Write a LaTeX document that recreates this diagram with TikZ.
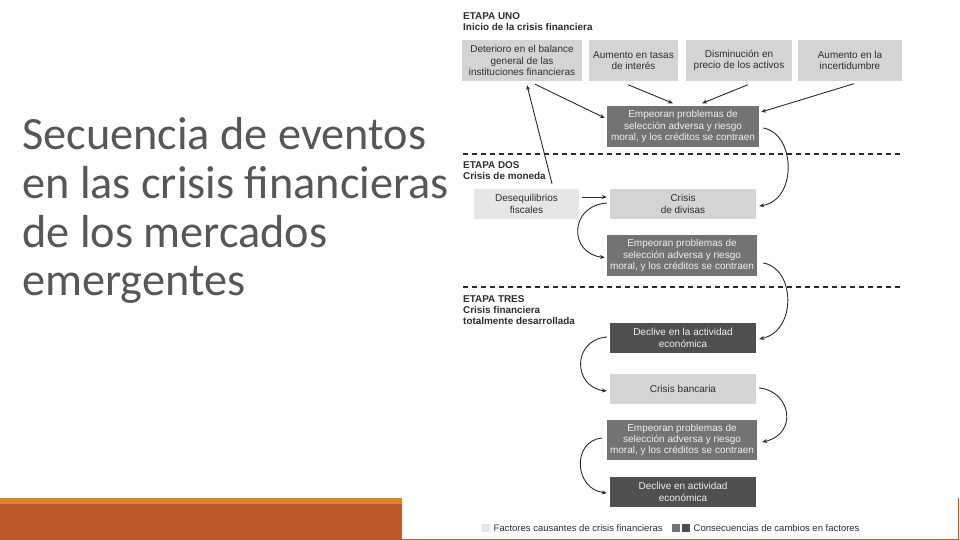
\documentclass[tikz,border=0pt]{standalone}
\usepackage{fontspec}
\setmainfont{Liberation Sans}
\newfontfamily\titlefont{Carlito}
\usetikzlibrary{arrows.meta,calc}
\definecolor{barorange}{HTML}{E0831D}
\definecolor{barbrown}{HTML}{BD592B}
\definecolor{titlegray}{HTML}{575757}
\definecolor{lightbox}{HTML}{D4D4D4}
\definecolor{paleBox}{HTML}{E6E6E6}
\definecolor{midbox}{HTML}{737373}
\definecolor{darkbox}{HTML}{4F4F4F}
\definecolor{boxtext}{HTML}{2E2E2E}
\definecolor{inktext}{HTML}{F0F0F0}
\definecolor{linecol}{HTML}{2A2A2A}
\tikzset{
  box/.style={rectangle, inner sep=0pt, align=center, font=\fontsize{10}{11.3}\selectfont},
  lightb/.style={box, fill=lightbox, text=boxtext},
  paleb/.style={box, fill=paleBox, text=boxtext},
  midb/.style={box, fill=midbox, text=inktext},
  darkb/.style={box, fill=darkbox, text=inktext},
  hdr/.style={anchor=base west, inner sep=0pt, text=boxtext, font=\bfseries\fontsize{9.9}{11}\selectfont},
  ttl/.style={anchor=base west, inner sep=0pt, text=titlegray, font=\titlefont\fontsize{46.3}{48}\selectfont},
  arr/.style={draw=linecol, line width=0.9pt, -{Stealth[length=5pt,width=4pt]}},
  sepline/.style={draw=linecol, line width=1.2pt, dash pattern=on 5pt off 4pt},
  legtext/.style={anchor=west, inner sep=0pt, text=boxtext, font=\fontsize{9.5}{11}\selectfont}
}
\begin{document}
\begin{tikzpicture}[x=1pt,y=-1pt]
\useasboundingbox (0,0) rectangle (960,540);
\fill[white] (0,0) rectangle (960,540);
% bottom bars
\fill[barorange] (0,498) rectangle (402,504);
\fill[barbrown] (0,504) rectangle (402,540);
\fill[barbrown] (402,538.6) rectangle (959,540);
\fill[barbrown] (958,498) rectangle (959.3,540);
% title
\node[ttl] (t1) at (22,150) {Secuencia de eventos};
\node[ttl] (t2) at (22,198.5) {en las crisis financieras};
\node[ttl] (t3) at (22,247) {de los mercados};
\node[ttl] (t4) at (22,295) {emergentes};
% headers
\node[hdr] (h1a) at (463,19.5) {ETAPA UNO};
\node[hdr] (h1b) at (463,31) {Inicio de la crisis financiera};
\node[hdr] (h2a) at (463,168.3) {ETAPA DOS};
\node[hdr] (h2b) at (463,179.3) {Crisis de moneda};
\node[hdr] (h3a) at (463,302.3) {ETAPA TRES};
\node[hdr] (h3b) at (463,313.3) {Crisis financiera};
\node[hdr] (h3c) at (463,324.3) {totalmente desarrollada};
% separators
\coordinate (s1a) at (463,154); \coordinate (s1b) at (902,154);
\coordinate (s2a) at (463,287); \coordinate (s2b) at (902,287);
\draw[sepline] (s1a) -- (s1b);
\draw[sepline] (s2a) -- (s2b);
% stage one boxes
\node[lightb, minimum width=120pt, minimum height=41pt] (b1) at (522,60.5) {Deterioro en el balance\\general de las\\instituciones financieras};
\node[lightb, minimum width=89pt, minimum height=41pt] (b2) at (633.5,60.5) {Aumento en tasas\\de interés};
\node[lightb, minimum width=106pt, minimum height=41pt] (b3) at (739,60.5) {Disminución en\\precio de los activos};
\node[lightb, minimum width=104pt, minimum height=41pt] (b4) at (850,60.5) {Aumento en la\\incertidumbre};
\node[midb, minimum width=152pt, minimum height=41pt] (e1) at (683,126.5) {Empeoran problemas de\\selección adversa y riesgo\\moral, y los créditos se contraen};
% stage two
\node[paleb, minimum width=105pt, minimum height=30pt] (deseq) at (526.5,204) {Desequilibrios\\fiscales};
\node[lightb, minimum width=146pt, minimum height=30pt] (divisas) at (683,204) {Crisis\\de divisas};
\node[midb, minimum width=150pt, minimum height=41pt] (e2) at (682,255.5) {Empeoran problemas de\\selección adversa y riesgo\\moral, y los créditos se contraen};
% stage three
\node[darkb, minimum width=146pt, minimum height=30pt] (dec1) at (683,338) {Declive en la actividad\\económica};
\node[lightb, minimum width=146pt, minimum height=30pt] (banc) at (683,389) {Crisis bancaria};
\node[midb, minimum width=150pt, minimum height=40pt] (e3) at (682,440) {Empeoran problemas de\\selección adversa y riesgo\\moral, y los créditos se contraen};
\node[darkb, minimum width=146pt, minimum height=30pt] (dec2) at (683,492) {Declive en actividad\\económica};
% straight arrows
\draw[arr] ($(b1.south)+(13,3)$) -- ($(e1.west)+(-2,-8.5)$);
\draw[arr] ($(b2.south)+(-5.5,3.5)$) -- ($(e1.north)+(-10,-2.5)$);
\draw[arr] ($(b3.south)+(9,3.5)$) -- ($(e1.north)+(19,-2.5)$);
\draw[arr] ($(b4.south)+(4,2.5)$) -- ($(e1.east)+(2,-14.5)$);
\draw[arr] ($(deseq.east)+(3,-7)$) -- ($(divisas.west)+(-3,-7)$);
\draw[arr] ($(deseq.north)+(25.5,-5)$) -- ($(b1.south)+(5,4)$);
% curved arrows
\draw[arr] ($(e1.east)+(4,1.5)$) .. controls +(32,5) and +(39,-6) .. ($(divisas.east)+(3,2)$);
\draw[arr] ($(divisas.west)+(-3,-1)$) .. controls +(-38,3) and +(-36,-4) .. ($(e2.west)+(-2,2)$);
\draw[arr] ($(e2.east)+(6,7.5)$) .. controls +(32,5) and +(38,-8) .. ($(dec1.east)+(3,1)$);
\draw[arr] ($(dec1.west)+(-3,-1)$) .. controls +(-35,3) and +(-34,-4) .. ($(banc.west)+(-3,2)$);
\draw[arr] ($(banc.east)+(3,-1)$) .. controls +(32,3) and +(36,-8) .. ($(e3.east)+(5,2)$);
\draw[arr] ($(e3.west)+(-5,-2)$) .. controls +(-30,3) and +(-33,-4) .. ($(dec2.west)+(-3,1)$);
% legend
\fill[paleBox] (482,524) rectangle (490,532);
\node[legtext] (l1) at (493.5,528) {Factores causantes de crisis financieras};
\fill[midbox] (672,524) rectangle (680,532);
\fill[darkbox] (682,524) rectangle (690,532);
\node[legtext] (l2) at (693.5,528) {Consecuencias de cambios en factores};
\end{tikzpicture}
\end{document}
